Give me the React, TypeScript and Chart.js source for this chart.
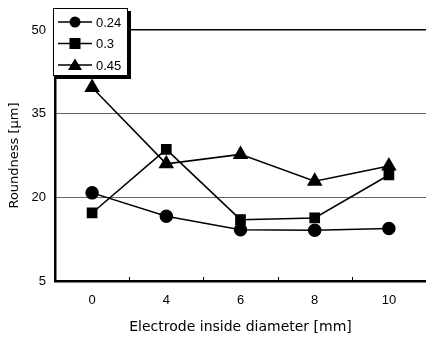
import React, { useEffect, useRef } from "react";
import { Chart, registerables } from "chart.js";

Chart.register(...registerables);

const categories = ["0", "4", "6", "8", "10"];
const seriesLabels = ["0.24", "0.3", "0.45"];
const series024 = [20.8, 16.6, 14.2, 14.1, 14.4];
const series03 = [17.2, 28.6, 16.0, 16.3, 24.0];
const series045 = [39.7, 26.0, 27.7, 22.9, 25.6];
const yTicks = [5, 20, 35, 50];
const pointStyles = ["circle", "rect", "triangle"];

const FONT = "'Liberation Sans', Arial, sans-serif";
const TFONT = "'DejaVu Sans', 'Liberation Sans', sans-serif";

function drawMarker(ctx: CanvasRenderingContext2D, style: string, x: number, y: number) {
  ctx.beginPath();
  if (style === "circle") {
    ctx.arc(x, y, 5.5, 0, Math.PI * 2);
  } else if (style === "rect") {
    ctx.rect(x - 5.5, y - 5.5, 11, 11);
  } else {
    ctx.moveTo(x, y - 6.5);
    ctx.lineTo(x + 7, y + 5);
    ctx.lineTo(x - 7, y + 5);
    ctx.closePath();
  }
  ctx.fill();
}

const legendPlugin = {
  id: "boxLegend",
  afterDraw(chart: any) {
    const ctx = chart.ctx as CanvasRenderingContext2D;
    const x0 = 53, y0 = 8, w = 75, h = 68;
    ctx.save();
    ctx.fillStyle = "#000";
    ctx.fillRect(x0 + 3, y0 + 3, w, h);
    ctx.fillStyle = "#fff";
    ctx.fillRect(x0, y0, w, h);
    ctx.strokeStyle = "#000";
    ctx.lineWidth = 1;
    ctx.strokeRect(x0 + 0.5, y0 + 0.5, w - 1, h - 1);
    chart.data.datasets.forEach((ds: any, i: number) => {
      const yy = y0 + 14 + i * 21.5;
      ctx.strokeStyle = "#000";
      ctx.lineWidth = 1.5;
      ctx.beginPath();
      ctx.moveTo(x0 + 5, yy);
      ctx.lineTo(x0 + 39, yy);
      ctx.stroke();
      ctx.fillStyle = "#000";
      drawMarker(ctx, pointStyles[i], x0 + 22, yy);
      ctx.font = `13px ${FONT}`;
      ctx.textBaseline = "middle";
      ctx.textAlign = "left";
      ctx.fillText(ds.label, x0 + 43, yy + 1);
    });
    ctx.restore();
  },
};

const innerTicksPlugin = {
  id: "innerTicks",
  afterDatasetsDraw(chart: any) {
    const ctx = chart.ctx as CanvasRenderingContext2D;
    const xs = chart.scales.x;
    const bottom = chart.chartArea.bottom;
    ctx.save();
    ctx.strokeStyle = "#000";
    ctx.lineWidth = 1;
    for (let i = 1; i < categories.length; i++) {
      const px = (xs.getPixelForValue(i - 1) + xs.getPixelForValue(i)) / 2;
      ctx.beginPath();
      ctx.moveTo(Math.round(px) + 0.5, bottom);
      ctx.lineTo(Math.round(px) + 0.5, bottom - 4);
      ctx.stroke();
    }
    ctx.restore();
  },
};

export default function App() {
  const ref = useRef<HTMLCanvasElement | null>(null);
  useEffect(() => {
    if (!ref.current) return;
    const mk = (label: string, data: number[], ps: string, r: number) => ({
      label,
      data,
      borderColor: "#000",
      backgroundColor: "#000",
      borderWidth: 1.5,
      pointStyle: ps,
      pointRadius: r,
      pointBackgroundColor: "#000",
      pointBorderColor: "#000",
      tension: 0,
    });
    const chart = new Chart(ref.current, {
      type: "line",
      data: {
        labels: categories,
        datasets: [
          mk(seriesLabels[0], series024, "circle", 6),
          mk(seriesLabels[1], series03, "rect", 6.5),
          mk(seriesLabels[2], series045, "triangle", 7.5),
        ],
      },
      options: {
        animation: false,
        responsive: false,
        maintainAspectRatio: false,
        layout: { autoPadding: false, padding: { top: 30, right: 0, left: 0, bottom: 0 } },
        plugins: { legend: { display: false }, tooltip: { enabled: false } },
        scales: {
          x: {
            type: "category",
            offset: true,
            grid: { display: true, drawOnChartArea: false, drawTicks: false },
            border: { display: true, color: "#000", width: 2.5 },
            ticks: { color: "#000", font: { family: FONT, size: 13 }, padding: 12 },
            title: {
              display: true,
              text: "Electrode inside diameter [mm]",
              color: "#000",
              font: { family: TFONT, size: 14 },
              padding: { top: 5 },
            },
            afterFit: (s: any) => {
              s.height = 59;
              s.paddingLeft = 0;
              s.paddingRight = 0;
            },
          },
          y: {
            min: 5,
            max: 50,
            afterBuildTicks: (s: any) => { s.ticks = yTicks.map((v) => ({ value: v })); },
            grid: {
              drawTicks: false,
              color: (c: any) => (c.tick && c.tick.value === 50 ? "#000" : "#666"),
              lineWidth: (c: any) => (c.tick && c.tick.value === 50 ? 1.5 : 1),
            },
            border: { display: true, color: "#000", width: 2.5 },
            ticks: { color: "#000", font: { family: FONT, size: 13 }, padding: 9 },
            title: {
              display: true,
              text: "Roundness [μm]",
              color: "#000",
              font: { family: TFONT, size: 13 },
              padding: { top: 7, bottom: 0 },
            },
            afterFit: (s: any) => {
              s.width = 55;
              s.paddingTop = 0;
              s.paddingBottom = 0;
            },
          },
        },
      },
      plugins: [innerTicksPlugin, legendPlugin],
    } as any);
    return () => chart.destroy();
  }, []);
  return (
    <div style={{ position: "fixed", left: 0, top: 0, width: 426, height: 340, background: "#fff" }}>
      <canvas ref={ref} width={426} height={340} style={{ width: 426, height: 340 }} />
    </div>
  );
}
